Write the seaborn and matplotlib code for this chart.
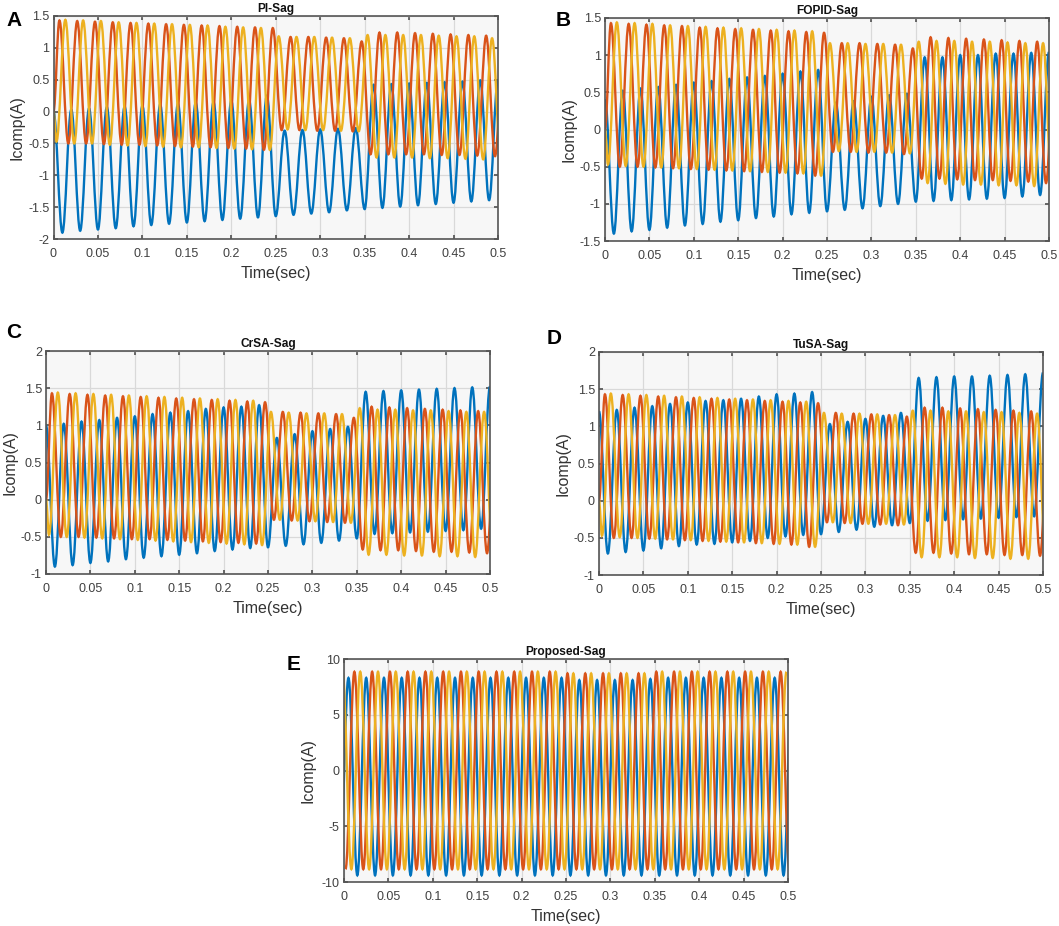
import numpy as np
import pandas as pd
import seaborn as sns
import matplotlib
matplotlib.use("Agg")
import matplotlib.pyplot as plt
from matplotlib.patches import PathPatch
from matplotlib.path import Path

# peaks and troughs of each half cycle
a_blue_hi = [0, .03, .05, .07, .08, .09, .11, .12, .14, .15, .17, .18, .25, -.3, -.29, -.28, -.27, -.26, .42, .43, .44, .45, .46, .47, .49, .5]
a_blue_lo = [-1.9, -1.87, -1.85, -1.83, -1.8, -1.78, -1.76, -1.74, -1.72, -1.7, -1.68, -1.66, -1.64, -1.62, -1.6, -1.58, -1.55, -1.53, -1.51, -1.49, -1.47, -1.45, -1.43, -1.41, -1.39]
a_red_hi = [1.43, 1.42, 1.41, 1.4, 1.39, 1.38, 1.37, 1.36, 1.35, 1.34, 1.33, 1.32, 1.31, 1.17, 1.17, 1.16, 1.15, 1.1, 1.24, 1.24, 1.23, 1.22, 1.21, 1.2, 1.19, 1.19]
a_red_lo = [-.5, -.5, -.51, -.52, -.52, -.53, -.54, -.55, -.56, -.57, -.58, -.6, -.29, -.29, -.3, -.3, -.31, -.67, -.67, -.67, -.67, -.68, -.68, -.69, -.7]
a_yel_lo = [-.47, -.5, -.5, -.52, -.53, -.54, -.55, -.56, -.56, -.57, -.58, -.59, -.6, -.28, -.29, -.29, -.3, -.31, -.72, -.72, -.72, -.73, -.73, -.74, -.75, -.76]
a_yel_hi = [1.44, 1.43, 1.42, 1.4, 1.39, 1.38, 1.37, 1.36, 1.35, 1.33, 1.32, 1.31, 1.18, 1.17, 1.17, 1.16, 1.15, 1.2, 1.2, 1.2, 1.2, 1.19, 1.18, 1.18, 1.15]

b_blue_hi = [.4, .52, .55, .57, .6, .63, .65, .68, .7, .72, .75, .78, .8, .36, .38, .44, .46, .48, .97, .97, 1.0, 1.0, 1.02, 1.02, 1.03, 1.04]
b_blue_lo = [-1.4, -1.37, -1.35, -1.32, -1.29, -1.27, -1.24, -1.22, -1.19, -1.17, -1.14, -1.12, -1.1, -1.08, -1.06, -1.03, -1.0, -.97, -.96, -.95, -.94, -.93, -.92, -.9, -.88]
b_red_hi = [1.43, 1.42, 1.41, 1.4, 1.39, 1.37, 1.36, 1.35, 1.34, 1.33, 1.32, 1.31, 1.3, 1.16, 1.16, 1.15, 1.14, 1.09, 1.24, 1.23, 1.22, 1.21, 1.2, 1.19, 1.18, 1.18]
b_red_lo = [-.5, -.5, -.51, -.52, -.53, -.54, -.55, -.56, -.57, -.58, -.59, -.62, -.3, -.3, -.31, -.31, -.33, -.66, -.66, -.67, -.68, -.68, -.69, -.7, -.72]
b_yel_lo = [-.47, -.49, -.5, -.51, -.52, -.53, -.54, -.55, -.56, -.57, -.58, -.59, -.62, -.29, -.3, -.3, -.31, -.32, -.72, -.73, -.74, -.74, -.75, -.75, -.76, -.77]
b_yel_hi = [1.44, 1.43, 1.42, 1.4, 1.39, 1.38, 1.37, 1.36, 1.35, 1.34, 1.33, 1.32, 1.16, 1.16, 1.15, 1.15, 1.14, 1.18, 1.19, 1.19, 1.18, 1.18, 1.17, 1.16, 1.16]

c_blue_hi = [1.0, 1.02, 1.05, 1.07, 1.1, 1.12, 1.15, 1.17, 1.19, 1.22, 1.24, 1.25, 1.27, .83, .88, .92, .95, .98, 1.45, 1.46, 1.47, 1.48, 1.49, 1.5, 1.51, 1.52]
c_blue_lo = [-.9, -.88, -.85, -.83, -.8, -.78, -.76, -.74, -.72, -.69, -.67, -.65, -.64, -.62, -.6, -.58, -.55, -.52, -.46, -.45, -.44, -.43, -.42, -.41, -.39]
c_red_hi = [1.43, 1.42, 1.41, 1.4, 1.39, 1.38, 1.37, 1.36, 1.35, 1.34, 1.33, 1.32, 1.31, 1.18, 1.17, 1.16, 1.15, 1.1, 1.25, 1.24, 1.23, 1.22, 1.21, 1.2, 1.19, 1.19]
c_red_lo = [-.5, -.5, -.51, -.52, -.53, -.53, -.54, -.55, -.56, -.57, -.58, -.59, -.27, -.28, -.29, -.3, -.31, -.67, -.68, -.68, -.69, -.7, -.7, -.71, -.72]
c_yel_lo = [-.47, -.5, -.51, -.52, -.53, -.54, -.55, -.56, -.57, -.58, -.59, -.6, -.61, -.27, -.28, -.29, -.3, -.31, -.74, -.74, -.75, -.75, -.76, -.76, -.77, -.77]
c_yel_hi = [1.44, 1.43, 1.42, 1.41, 1.4, 1.39, 1.38, 1.37, 1.36, 1.35, 1.34, 1.33, 1.18, 1.17, 1.16, 1.16, 1.15, 1.23, 1.21, 1.21, 1.2, 1.2, 1.19, 1.18, 1.18]

d_blue_hi = [1.2, 1.22, 1.25, 1.27, 1.3, 1.32, 1.34, 1.35, 1.37, 1.4, 1.43, 1.44, 1.46, 1.03, 1.06, 1.1, 1.14, 1.18, 1.65, 1.66, 1.67, 1.67, 1.68, 1.69, 1.7, 1.72]
d_blue_lo = [-.71, -.69, -.67, -.64, -.61, -.59, -.58, -.56, -.54, -.5, -.48, -.46, -.45, -.42, -.39, -.35, -.33, -.3, -.27, -.26, -.25, -.24, -.23, -.22, -.21]
d_red_hi = [1.43, 1.42, 1.41, 1.4, 1.39, 1.38, 1.37, 1.36, 1.35, 1.34, 1.33, 1.32, 1.31, 1.18, 1.17, 1.16, 1.15, 1.13, 1.25, 1.25, 1.24, 1.23, 1.22, 1.21, 1.2, 1.2]
d_red_lo = [-.5, -.5, -.51, -.52, -.53, -.54, -.55, -.56, -.57, -.58, -.59, -.62, -.29, -.3, -.31, -.32, -.33, -.7, -.7, -.71, -.72, -.72, -.73, -.73, -.74]
d_yel_lo = [-.47, -.49, -.5, -.51, -.52, -.53, -.54, -.55, -.56, -.57, -.58, -.59, -.62, -.29, -.3, -.31, -.31, -.32, -.76, -.76, -.76, -.77, -.77, -.78, -.78, -.79]
d_yel_hi = [1.44, 1.43, 1.42, 1.41, 1.4, 1.39, 1.38, 1.37, 1.36, 1.35, 1.34, 1.33, 1.18, 1.17, 1.17, 1.16, 1.15, 1.21, 1.21, 1.2, 1.2, 1.19, 1.19, 1.18, 1.17]

e_blue_lo = [-9.4, -9.4, -9.4, -9.4, -9.4, -9.4, -9.4, -9.4, -9.4, -9.4, -9.4, -9.4, -9.4, -9.4, -9.4, -9.4, -9.4, -9.4, -9.4, -9.4, -9.4, -9.4, -9.4, -9.4, -9.4, -9.4]
e_blue_hi = [8.3, 8.3, 8.3, 8.3, 8.3, 8.3, 8.3, 8.3, 8.3, 8.3, 8.3, 8.3, 8.3, 8.1, 8.1, 8.1, 8.1, 8.2, 8.3, 8.3, 8.3, 8.3, 8.3, 8.3, 8.3, 8.3]
e_red_lo = [-8.85, -8.85, -8.85, -8.85, -8.85, -8.85, -8.85, -8.85, -8.85, -8.85, -8.85, -8.85, -8.85, -8.85, -8.85, -8.85, -8.85, -8.85, -8.85, -8.85, -8.85, -8.85, -8.85, -8.85, -8.85, -8.85]
e_red_hi = [8.85, 8.85, 8.85, 8.85, 8.85, 8.85, 8.85, 8.85, 8.85, 8.85, 8.85, 8.85, 8.7, 8.7, 8.7, 8.7, 8.7, 8.85, 8.85, 8.85, 8.85, 8.85, 8.85, 8.85, 8.85]
e_yel_hi = [8.85, 8.85, 8.85, 8.85, 8.85, 8.85, 8.85, 8.85, 8.85, 8.85, 8.85, 8.85, 8.85, 8.7, 8.7, 8.7, 8.7, 8.7, 8.85, 8.85, 8.85, 8.85, 8.85, 8.85, 8.85, 8.85]
e_yel_lo = [-8.85, -8.85, -8.85, -8.85, -8.85, -8.85, -8.85, -8.85, -8.85, -8.85, -8.85, -8.85, -8.85, -8.85, -8.85, -8.85, -8.85, -8.85, -8.85, -8.85, -8.85, -8.85, -8.85, -8.85, -8.85]

time_ticks = [0, .05, .1, .15, .2, .25, .3, .35, .4, .45, .5]
time_labels = ['0', '0.05', '0.1', '0.15', '0.2', '0.25', '0.3', '0.35', '0.4', '0.45', '0.5']
ticks_ab = [-2, -1.5, -1, -.5, 0, .5, 1, 1.5]
labels_ab = ['-2', '-1.5', '-1', '-0.5', '0', '0.5', '1', '1.5']
ticks_b = [-1.5, -1, -.5, 0, .5, 1, 1.5]
labels_b = ['-1.5', '-1', '-0.5', '0', '0.5', '1', '1.5']
ticks_cd = [-1, -.5, 0, .5, 1, 1.5, 2]
labels_cd = ['-1', '-0.5', '0', '0.5', '1', '1.5', '2']
ticks_e = [-10, -5, 0, 5, 10]
labels_e = ['-10', '-5', '0', '5', '10']

colors = {'a': '#0072BD', 'b': '#D95319', 'c': '#EDB120'}
W, H = 1059, 926
HALF = 0.01
T1 = HALF * 2 / 3
T2 = HALF / 3


def wave(phase, t0, first, second, start=None):
    y = np.empty(len(first) + len(second))
    y[::2] = first
    y[1::2] = second
    t = t0 + HALF * np.arange(len(y))
    if start is not None:
        t = np.r_[0, t]
        y = np.r_[start, y]
    return pd.DataFrame({'t': t, 'i': y, 'phase': phase})


def round_tops(ax):
    # lineplot joins the extremes with straight lines, bend them so the tops are flat
    for line in list(ax.get_lines()):
        x, y = line.get_data()
        verts = [(x[0], y[0])]
        codes = [Path.MOVETO]
        for i in range(1, len(x)):
            dx = x[i] - x[i - 1]
            verts += [(x[i - 1] + .3642 * dx, y[i - 1]), (x[i] - .3642 * dx, y[i]), (x[i], y[i])]
            codes += [Path.CURVE4] * 3
        ax.add_patch(PathPatch(Path(verts, codes), fc='none', ec=line.get_color(),
                               lw=line.get_linewidth(), zorder=2))
        line.remove()


sns.set_theme(style='whitegrid', rc={
    'axes.facecolor': '#f7f7f7', 'axes.edgecolor': '#555555', 'axes.linewidth': 1.2,
    'grid.color': '#d9d9d9', 'grid.linewidth': 0.9,
    'xtick.direction': 'in', 'ytick.direction': 'in', 'xtick.top': True, 'ytick.right': True,
    'xtick.bottom': True, 'ytick.left': True, 'xtick.major.size': 3, 'ytick.major.size': 3,
    'xtick.color': '#555555', 'ytick.color': '#555555',
    'xtick.labelcolor': '#404040', 'ytick.labelcolor': '#404040',
    'axes.labelcolor': '#333333', 'text.color': '#111111',
})
plt.rcParams['font.family'] = ['Liberation Sans', 'DejaVu Sans']

fig = plt.figure(figsize=(W / 100, H / 100), dpi=100)

panels = [
    ('A', 'PI-Sag', (53.5, 16, 498, 239), (6, 20), (-2, 1.5), ticks_ab, labels_ab,
     [wave('a', 0, a_blue_hi, a_blue_lo), wave('b', T1, a_red_hi, a_red_lo, 0), wave('c', T2, a_yel_lo, a_yel_hi, 0)]),
    ('B', 'FOPID-Sag', (605, 18, 1049, 241), (556, 20), (-1.5, 1.5), ticks_b, labels_b,
     [wave('a', 0, b_blue_hi, b_blue_lo), wave('b', T1, b_red_hi, b_red_lo, 0), wave('c', T2, b_yel_lo, b_yel_hi, 0)]),
    ('C', 'CrSA-Sag', (46, 351, 490, 574), (6, 332), (-1, 2), ticks_cd, labels_cd,
     [wave('a', 0, c_blue_hi, c_blue_lo), wave('b', T1, c_red_hi, c_red_lo, 0), wave('c', T2, c_yel_lo, c_yel_hi, 0)]),
    ('D', 'TuSA-Sag', (599, 352, 1043, 575), (547, 338), (-1, 2), ticks_cd, labels_cd,
     [wave('a', 0, d_blue_hi, d_blue_lo), wave('b', T1, d_red_hi, d_red_lo, 0), wave('c', T2, d_yel_lo, d_yel_hi, 0)]),
    ('E', 'Proposed-Sag', (344, 659, 788, 882), (287, 664), (-10, 10), ticks_e, labels_e,
     [wave('a', -.005, e_blue_lo, e_blue_hi), wave('b', .0017, e_red_lo, e_red_hi), wave('c', -.0017, e_yel_hi, e_yel_lo)]),
]

for letter, title, box, corner, ylim, yticks, ylabels, parts in panels:
    x0, y0, x1, y1 = box
    ax = fig.add_axes([x0 / W, 1 - y1 / H, (x1 - x0) / W, (y1 - y0) / H])
    df = pd.concat(parts, ignore_index=True)
    sns.lineplot(data=df, x='t', y='i', hue='phase', palette=colors, estimator=None,
                 sort=False, linewidth=1.7, legend=False, ax=ax)
    round_tops(ax)
    ax.set_xlim(0, .5)
    ax.set_ylim(*ylim)
    ax.set_xticks(time_ticks, time_labels)
    ax.set_yticks(yticks, ylabels)
    ax.tick_params(axis='x', labelsize=9, pad=6.5)
    ax.tick_params(axis='y', labelsize=9, pad=3)
    ax.set_xlabel('Time(sec)', fontsize=11.5)
    ax.set_ylabel('Icomp(A)', fontsize=11.5)
    ax.xaxis.set_label_coords(.5, -.12)
    ax.yaxis.set_label_coords(-.065, .5)
    ax.set_title(title, fontsize=8.6, fontweight='bold', pad=3)
    fig.text(corner[0] / W, 1 - corner[1] / H, letter, fontsize=15, fontweight='bold',
             color='black', va='center')

fig.savefig('out.png', dpi=100)
